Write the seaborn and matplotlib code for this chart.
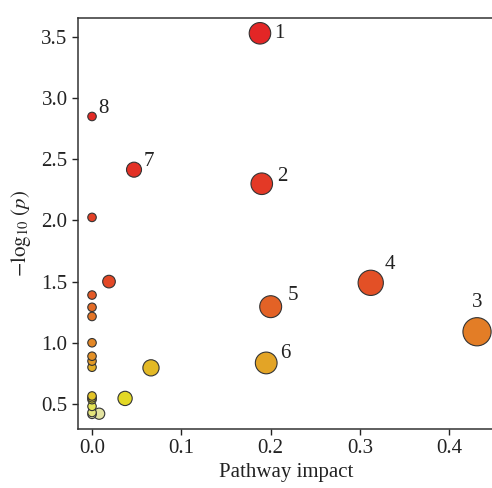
import numpy as np
import pandas as pd
import matplotlib
matplotlib.use("Agg")
import matplotlib.pyplot as plt
import matplotlib.colors as mcolors
import seaborn as sns

# ---- data ----
impact = [0.188, 0.190, 0.431, 0.312, 0.200, 0.195, 0.047, 0.0,
          0.0, 0.019, 0.0, 0.0, 0.0, 0.0, 0.0, 0.0, 0.0,
          0.066, 0.037, 0.0, 0.0, 0.0, 0.0, 0.0, 0.0, 0.008]
neglogp = [3.53, 2.30, 1.09, 1.49, 1.295, 0.835, 2.415, 2.85,
           2.025, 1.50, 1.39, 1.29, 1.215, 1.00, 0.89, 0.85, 0.80,
           0.795, 0.545, 0.565, 0.55, 0.535, 0.48, 0.43, 0.415, 0.42]
labels = ["1", "2", "3", "4", "5", "6", "7", "8"] + [""] * 18
xticks = [0.0, 0.1, 0.2, 0.3, 0.4]
yticks = [0.5, 1.0, 1.5, 2.0, 2.5, 3.0, 3.5]

df = pd.DataFrame({"impact": impact, "neglogp": neglogp, "label": labels})

# ---- style ----
sns.set_style("ticks")
plt.rcParams["font.family"] = ["Liberation Serif", "DejaVu Serif"]
plt.rcParams["mathtext.fontset"] = "stix"

FS = 15

# heat-colours-like palette by rank (high -> low), then reversed
def heat_palette(n, n_sat=22):
    cols = []
    n_pale = n - n_sat
    for k in range(n):
        if k < n_sat:
            h = ((k / (n_sat - 1)) ** 1.2) / 6
            c = mcolors.hsv_to_rgb((h, 1.0, 1.0))
        else:
            m = k - n_sat
            s = 0.75 - 0.6 * m / max(n_pale - 1, 1)
            c = mcolors.hsv_to_rgb((1 / 6, s, 1.0))
        cols.append(tuple(np.clip(0.74 * np.array(c) + 0.15, 0, 1)))
    return cols

levels = sorted(set(neglogp))
pal = heat_palette(len(levels))[::-1]  # low (pale) -> high (red)

sizes_pt2 = [(0.72 * (8.5 + 30 * np.sqrt(v))) ** 2 for v in impact]

fig = plt.figure(figsize=(4.92, 4.88), dpi=100)
ax = fig.add_axes([78 / 492, 1 - 429 / 488, (494 - 78) / 492, (429 - 18) / 488])

order = np.argsort(sizes_pt2, kind="stable")[::-1]
dfo = df.iloc[order].reset_index(drop=True)
so = [sizes_pt2[k] for k in order]

sns.scatterplot(data=dfo, x="impact", y="neglogp", hue="neglogp",
                hue_order=levels, palette=pal, s=so, edgecolor="#333333",
                linewidth=0.8, legend=False, ax=ax, zorder=3)

offsets = {"1": (14, 0), "2": (15, 5), "3": (0, 21), "4": (14, 13),
           "5": (16, 8), "6": (14, 7), "7": (11, 6), "8": (8, 6)}
for _, r in df.iterrows():
    if r["label"]:
        dx, dy = offsets[r["label"]]
        ax.annotate(r["label"], (r["impact"], r["neglogp"]),
                    xytext=(dx, dy), textcoords="offset points",
                    ha="center", va="center", fontsize=FS, color="#222222")

ax.set_xlim(-0.0157, 0.45)
ax.set_ylim(0.295, 3.655)
ax.set_xticks(xticks)
ax.set_yticks(yticks)
ax.set_xticklabels([f"{t:.1f}" for t in xticks])
ax.set_yticklabels([f"{t:.1f}" for t in yticks])
ax.tick_params(direction="out", length=4, width=1, labelsize=FS,
               colors="#222222")
for sp in ax.spines.values():
    sp.set_visible(True)
    sp.set_color("#333333")
    sp.set_linewidth(1.1)

ax.set_xlabel("Pathway impact", fontsize=FS, color="#222222", labelpad=3)
ax.set_ylabel(r"$-\log_{10}\,(p)$", fontsize=FS, color="#222222")
ax.yaxis.set_label_coords(-0.108, 0.475)

fig.savefig("out.png", dpi=100)
